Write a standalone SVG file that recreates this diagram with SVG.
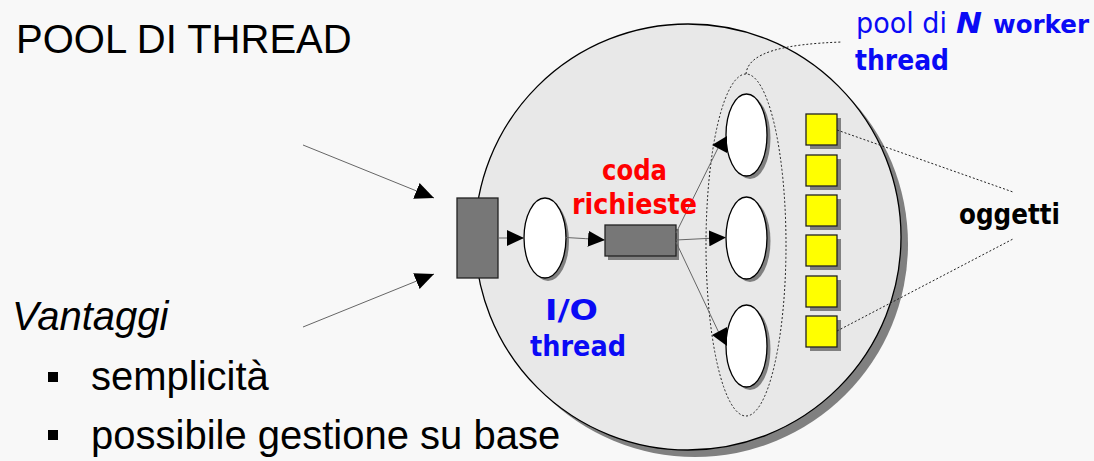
<svg xmlns="http://www.w3.org/2000/svg" width="1094" height="461" viewBox="0 0 1094 461">
  <defs>
    <style>
      .slide { font-family: "Liberation Sans", Arial, sans-serif; font-size: 40px; fill: #000; }
      .hand { font-family: "DejaVu Sans", "Liberation Sans", sans-serif; font-weight: bold; font-size: 29px; }
      .plain { font-weight: normal; }
      .blue { fill: #0a0af5; }
      .red { fill: #ff0000; }
      .thread { fill: #ffffff; stroke: #000; stroke-width: 1.3; }
      .shadow { fill: #808080; }
      .block { fill: #777777; stroke: #222; stroke-width: 1.3; }
      .obj { fill: #ffff00; stroke: #222; stroke-width: 1.3; }
      .link { fill: none; stroke: #666; stroke-width: 1; }
      .dotted { fill: none; stroke: #222; stroke-width: 1; stroke-dasharray: 2 2; }
      .head { fill: #000; }
    </style>
    <marker id="ah" markerUnits="userSpaceOnUse" markerWidth="17" markerHeight="16" refX="17" refY="8" orient="auto">
      <path d="M0,0 L17,8 L0,16 z" fill="#000"/>
    </marker>
    <marker id="ahBig" markerUnits="userSpaceOnUse" markerWidth="19" markerHeight="17" refX="19" refY="8.5" orient="auto">
      <path d="M0,0 L19,8.5 L0,17 z" fill="#000"/>
    </marker>
  </defs>

  <!-- page background -->
  <rect x="0" y="0" width="1094" height="461" fill="#f8f8f8"/>

  <!-- slide text -->
  <g id="title">
    <text class="slide" x="16" y="53">POOL DI THREAD</text>
  </g>
  <g id="advantages">
    <text class="slide" x="12" y="330" font-style="italic">Vantaggi</text>
    <rect x="48" y="372" width="10" height="10" fill="#000"/>
    <text class="slide" x="91" y="390">semplicità</text>
    <rect x="48" y="430" width="10" height="10" fill="#000"/>
    <text class="slide" x="91" y="449">possibile gestione su base</text>
  </g>

  <!-- server process -->
  <g id="server">
    <circle class="shadow" cx="695" cy="244" r="213"/>
    <circle cx="688" cy="237" r="213" fill="#e8e8e8" stroke="#000" stroke-width="1.3"/>
  </g>

  <!-- worker pool boundary -->
  <g id="worker-pool">
    <ellipse class="dotted" cx="746" cy="245" rx="40" ry="171"/>
  </g>

  <!-- entry port -->
  <g id="port">
    <rect class="block" x="457" y="198" width="41" height="80"/>
  </g>

  <!-- I/O thread -->
  <g id="io-thread">
    <ellipse class="shadow" cx="548" cy="241" rx="21" ry="40"/>
    <ellipse class="thread" cx="545" cy="238" rx="21" ry="40"/>
  </g>

  <!-- request queue -->
  <g id="queue">
    <rect class="shadow" x="608" y="229" width="71" height="31"/>
    <rect class="block" x="605" y="225" width="71" height="31"/>
  </g>

  <!-- worker threads -->
  <g id="worker-1">
    <ellipse class="shadow" cx="750" cy="138" rx="20.5" ry="41"/>
    <ellipse class="thread" cx="746.5" cy="135" rx="20.5" ry="41"/>
  </g>
  <g id="worker-2">
    <ellipse class="shadow" cx="750" cy="241" rx="20.5" ry="41"/>
    <ellipse class="thread" cx="746.5" cy="238" rx="20.5" ry="41"/>
  </g>
  <g id="worker-3">
    <ellipse class="shadow" cx="750" cy="349" rx="20.5" ry="41"/>
    <ellipse class="thread" cx="746.5" cy="346" rx="20.5" ry="41"/>
  </g>

  <!-- shared objects -->
  <g id="objects">
    <rect class="shadow" x="810" y="118" width="31" height="31"/>
    <rect class="obj" x="806" y="114" width="31" height="31"/>
    <rect class="shadow" x="810" y="159" width="31" height="31"/>
    <rect class="obj" x="806" y="155" width="31" height="31"/>
    <rect class="shadow" x="810" y="199" width="31" height="31"/>
    <rect class="obj" x="806" y="195" width="31" height="31"/>
    <rect class="shadow" x="810" y="239" width="31" height="31"/>
    <rect class="obj" x="806" y="235" width="31" height="31"/>
    <rect class="shadow" x="810" y="280" width="31" height="31"/>
    <rect class="obj" x="806" y="276" width="31" height="31"/>
    <rect class="shadow" x="810" y="320" width="31" height="31"/>
    <rect class="obj" x="806" y="316" width="31" height="31"/>
  </g>

  <!-- connectors -->
  <g id="connectors">
    <line class="link" x1="303" y1="145" x2="434" y2="198" marker-end="url(#ahBig)"/>
    <line class="link" x1="303" y1="327" x2="434" y2="274" marker-end="url(#ahBig)"/>
    <line class="link" x1="498" y1="238" x2="524" y2="238" marker-end="url(#ah)"/>
    <path class="link" d="M566,237.5 Q585,238.5 605,240" marker-end="url(#ah)"/>
    <path class="link" d="M676,240 L726,237.5" marker-end="url(#ah)"/>
    <path class="link" d="M676,233 L719,146"/>
    <polygon class="head" points="712,145 727,136 727,153"/>
    <path class="link" d="M676,242 L719,333"/>
    <polygon class="head" points="712,335 727,327 727,346"/>
    <!-- callout leaders -->
    <path class="dotted" d="M746,74 C748,52 785,44 842,42"/>
    <line class="dotted" x1="837" y1="130" x2="1013" y2="192"/>
    <line class="dotted" x1="837" y1="331" x2="1013" y2="239"/>
  </g>

  <!-- labels -->
  <g id="labels">
    <text class="hand red" x="634.5" y="180" text-anchor="middle" textLength="65" lengthAdjust="spacingAndGlyphs">coda</text>
    <text class="hand red" x="634.5" y="214" text-anchor="middle" textLength="125" lengthAdjust="spacingAndGlyphs">richieste</text>
    <text class="hand blue" x="571.5" y="320" text-anchor="middle" textLength="53" lengthAdjust="spacingAndGlyphs">I/O</text>
    <text class="hand blue" x="578" y="356" text-anchor="middle" textLength="96" lengthAdjust="spacingAndGlyphs">thread</text>
    <text class="hand plain blue" x="856" y="33" textLength="91" lengthAdjust="spacingAndGlyphs">pool di</text>
    <text class="hand blue" x="956" y="33" font-style="italic" textLength="26" lengthAdjust="spacingAndGlyphs">N</text>
    <text class="hand blue" x="993" y="33" style="font-size:25.5px" textLength="96" lengthAdjust="spacingAndGlyphs">worker</text>
    <text class="hand blue" x="855" y="70" textLength="94" lengthAdjust="spacingAndGlyphs">thread</text>
    <text class="hand" x="959" y="224" fill="#000" textLength="101" lengthAdjust="spacingAndGlyphs">oggetti</text>
  </g>
</svg>
